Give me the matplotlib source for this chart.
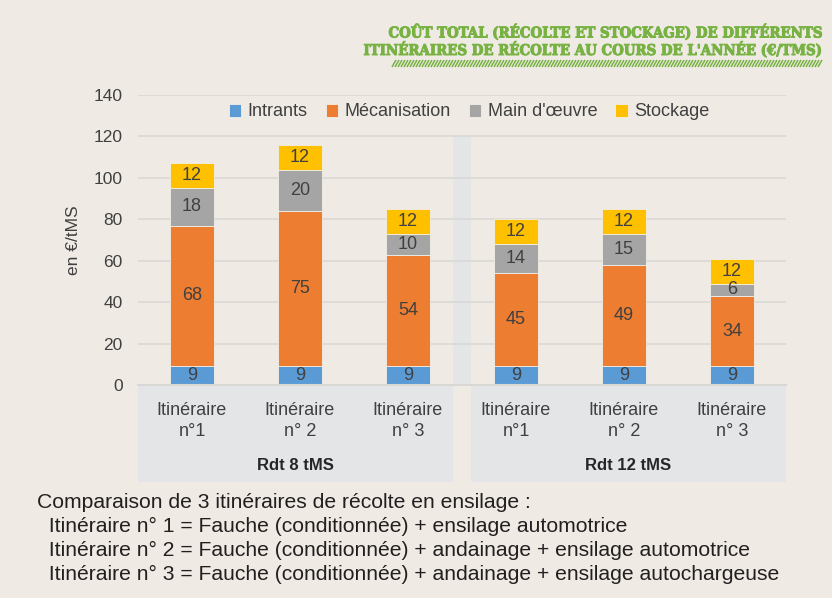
import matplotlib
matplotlib.use("Agg")
import matplotlib.pyplot as plt
from matplotlib.patches import Rectangle
from matplotlib.collections import LineCollection
import matplotlib.transforms as mtransforms
import matplotlib.font_manager as fm
import matplotlib.patheffects as pe
import numpy as np

# ---- data ----
categories = ["Itinéraire\nn°1", "Itinéraire\nn° 2", "Itinéraire\nn° 3",
              "Itinéraire\nn°1", "Itinéraire\nn° 2", "Itinéraire\nn° 3"]
groups = ["Rdt 8 tMS", "Rdt 12 tMS"]
series_names = ["Intrants", "Mécanisation", "Main d'œuvre", "Stockage"]
intrants = [9, 9, 9, 9, 9, 9]
mecanisation = [68, 75, 54, 45, 49, 34]
main_oeuvre = [18, 20, 10, 14, 15, 6]
stockage = [12, 12, 12, 12, 12, 12]
yticks = [0, 20, 40, 60, 80, 100, 120, 140]

title_lines = ["COÛT TOTAL (RÉCOLTE ET STOCKAGE) DE DIFFÉRENTS",
               "ITINÉRAIRES DE RÉCOLTE AU COURS DE L'ANNÉE (€/TMS)"]
footnote = ["Comparaison de 3 itinéraires de récolte en ensilage :",
            "  Itinéraire n° 1 = Fauche (conditionnée) + ensilage automotrice",
            "  Itinéraire n° 2 = Fauche (conditionnée) + andainage + ensilage automotrice",
            "  Itinéraire n° 3 = Fauche (conditionnée) + andainage + ensilage autochargeuse"]

colors = ["#5b9bd5", "#ed7d31", "#a5a5a5", "#ffc000"]
BG = "#efebe4"
BOX = "#e4e5e7"
TXT = "#404040"
GREEN = "#78b243"

plt.rcParams['font.family'] = ['Liberation Sans', 'DejaVu Sans']
available = {f.name for f in fm.fontManager.ttflist}

W, H = 832, 598
fig = plt.figure(figsize=(W / 100, H / 100), dpi=100, facecolor=BG)
renderer = fig.canvas.get_renderer()


def fit_width(t, target_px):
    """Scale a text's font size so that its rendered width matches target_px."""
    for _ in range(3):
        w = t.get_window_extent(renderer=renderer).width
        if w > 0:
            t.set_fontsize(t.get_fontsize() * target_px / w)


L, R, B, T = 138, 786, 385, 95
ax = fig.add_axes([L / W, 1 - B / H, (R - L) / W, (B - T) / H])
ax.set_facecolor(BG)
ax.set_xlim(-0.5, 5.5)
ax.set_ylim(0, 140)

x = np.arange(len(categories))
series = [intrants, mecanisation, main_oeuvre, stockage]

# separator band between groups
ax.add_patch(Rectangle((2.42, 0), 0.16, 120, facecolor=BOX, edgecolor='none', zorder=0))

ax.set_yticks(yticks)
ax.yaxis.grid(True, color="#d9d8d5", linewidth=1.2, zorder=0.5)
ax.set_axisbelow(True)

bottom = np.zeros(len(categories))
for name, vals, c in zip(series_names, series, colors):
    ax.bar(x, vals, width=0.4, bottom=bottom, color=c, label=name,
           edgecolor="#f2efe9", linewidth=0.6, zorder=2)
    for xi, b0, v in zip(x, bottom, vals):
        ax.text(xi, b0 + v / 2, f"{v}", ha='center', va='center',
                fontsize=13, color=TXT, zorder=3)
    bottom = bottom + np.array(vals)

for s in ["top", "right", "left"]:
    ax.spines[s].set_visible(False)
ax.spines["bottom"].set_color("#d9d8d5")
ax.spines["bottom"].set_linewidth(1.5)
ax.tick_params(axis='y', length=0, pad=11, labelsize=12.5, labelcolor=TXT)
ax.tick_params(axis='x', length=0, labelbottom=False)

ax.set_ylabel("en €/tMS", fontsize=12.5, color=TXT)
ax.yaxis.set_label_coords(-0.088, 0.5)

# category boxes below axis
trans = mtransforms.blended_transform_factory(ax.transData, ax.transAxes)
box_h = 97 / (B - T)
ax.add_patch(Rectangle((-0.5, -box_h), 2.92, box_h, transform=trans,
                       facecolor=BOX, edgecolor='none', clip_on=False, zorder=0))
ax.add_patch(Rectangle((2.58, -box_h), 2.92, box_h, transform=trans,
                       facecolor=BOX, edgecolor='none', clip_on=False, zorder=0))
for xi, lab in zip(x, categories):
    ax.text(xi, -17 / (B - T), lab, transform=trans, ha='center', va='top',
            fontsize=13, color=TXT, linespacing=1.3)
ax.text((-0.5 + 2.42) / 2, -81 / (B - T), groups[0], transform=trans,
        ha='center', va='center', fontsize=12, fontweight='bold', color="#262626")
ax.text((2.58 + 5.5) / 2, -81 / (B - T), groups[1], transform=trans,
        ha='center', va='center', fontsize=12, fontweight='bold', color="#262626")

ax.legend(loc='center', bbox_to_anchor=(0.511, (B - 112) / (B - T)), ncol=4,
          frameon=False, fontsize=13, handlelength=0.7, handleheight=0.7,
          handletextpad=0.35, columnspacing=1.0, labelcolor=TXT)

# title (green, right aligned)
title_font = ['DejaVu Serif']
thick = [pe.withStroke(linewidth=0.7, foreground=GREEN)]
t2 = fig.text(821 / W, 1 - 55 / H, title_lines[1], ha='right', va='baseline',
              fontsize=10.5, fontweight='bold', color=GREEN,
              family=title_font, fontstretch='condensed', path_effects=thick)
fit_width(t2, 456)
t1 = fig.text(821 / W, 1 - 37.5 / H, title_lines[0], ha='right', va='baseline',
              fontsize=t2.get_fontsize(), fontweight='bold', color=GREEN,
              family=title_font, fontstretch='condensed', path_effects=thick)

# hatched decoration under the title
segs = []
for xp in range(392, 820, 3):
    segs.append([(xp / W, 1 - 67 / H), ((xp + 4) / W, 1 - 60 / H)])
fig.add_artist(LineCollection(segs, colors=GREEN, linewidths=1.1,
                              transform=fig.transFigure))

# footnote
foot_font = ['Liberation Sans Narrow'] if 'Liberation Sans Narrow' in available else ['Liberation Sans']
foot_texts = []
for i, line in enumerate(footnote):
    ft = fig.text(37 / W, 1 - (502 + 24.2 * i) / H, line, ha='left', va='center',
                  fontsize=14, color="#231f20", family=foot_font)
    foot_texts.append(ft)
fit_width(foot_texts[3], 741)
for ft in foot_texts:
    ft.set_fontsize(foot_texts[3].get_fontsize())

fig.savefig("out.png", dpi=100, facecolor=BG)
